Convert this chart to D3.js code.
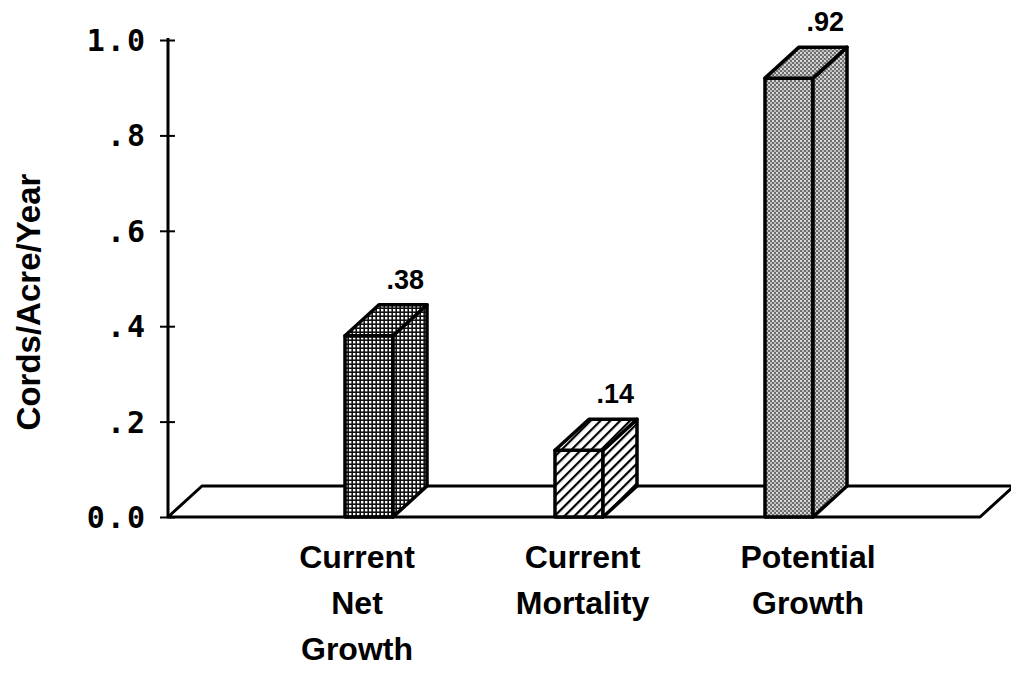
<!DOCTYPE html>
<html>
<head>
<meta charset="utf-8">
<script src="https://cdn.jsdelivr.net/npm/d3@7"></script>
<style>
  body { margin: 0; background: #fff; }
  svg { display: block; }
  .lbl { font-family: "Liberation Sans", Arial, sans-serif; font-weight: bold; fill: #000; }
  .ytk { font-family: "DejaVu Sans Mono", monospace; font-weight: bold; fill: #000; }
</style>
</head>
<body>
<div id="chart"></div>
<script>
// values
var categories = ['Current Net Growth', 'Current Mortality', 'Potential Growth']
var values = [0.38, 0.14, 0.92]
var patterns = ['grid', 'hatch', 'stipple']
var yTicks = [0, 0.2, 0.4, 0.6, 0.8, 1.0]
var yTickLabels = ['0.0', '.2', '.4', '.6', '.8', '1.0']

var W = 1011, H = 673
var svg = d3.select('#chart').append('svg').attr('width', W).attr('height', H)

var y = d3.scaleLinear().domain([0, 1]).range([517, 40])
var x = d3.scaleBand().domain(categories).range([240, 918])
  .paddingInner(0.7714).paddingOuter(0.5)
// category names sit a bit off the bars in the original
var xl = d3.scalePoint().domain(categories).range([357, 808])

var axisX = 168
var dx = 34, dy = -31   // depth of the fake 3d

// fills
var defs = svg.append('defs')
var pg = defs.append('pattern').attr('id', 'grid')
  .attr('patternUnits', 'userSpaceOnUse').attr('width', 4).attr('height', 4)
pg.append('rect').attr('width', 4).attr('height', 4).attr('fill', '#111')
pg.append('rect').attr('x', 1).attr('y', 1).attr('width', 2.4).attr('height', 2.4).attr('fill', '#fff')

var ph = defs.append('pattern').attr('id', 'hatch')
  .attr('patternUnits', 'userSpaceOnUse').attr('width', 7).attr('height', 7)
  .attr('patternTransform', 'rotate(45)')
ph.append('rect').attr('width', 7).attr('height', 7).attr('fill', '#fff')
ph.append('rect').attr('x', 0).attr('width', 2.2).attr('height', 7).attr('fill', '#000')

var ps = defs.append('pattern').attr('id', 'stipple')
  .attr('patternUnits', 'userSpaceOnUse').attr('width', 4).attr('height', 4)
ps.append('rect').attr('width', 4).attr('height', 4).attr('fill', '#6e6e6e')
ps.append('rect').attr('x', 0).attr('y', 0).attr('width', 2).attr('height', 2).attr('fill', '#d8d8d8')
ps.append('rect').attr('x', 2).attr('y', 2).attr('width', 2).attr('height', 2).attr('fill', '#bdbdbd')

// floor
var fx0 = axisX, fx1 = 980, fy = y(0)
svg.append('path')
  .attr('d', 'M' + [fx0, fy] + 'L' + [fx0 + dx, fy + dy] + 'L' + [fx1 + dx, fy + dy] + 'L' + [fx1, fy] + 'Z')
  .attr('fill', '#fff').attr('stroke', '#000').attr('stroke-width', 3).attr('stroke-linejoin', 'round')

// y axis, labels drawn by hand so the mono font sticks
var yAxis = d3.axisLeft(y).tickValues(yTicks).tickSize(8).tickFormat('')
var ga = svg.append('g').attr('transform', 'translate(' + axisX + ',0)').call(yAxis)
ga.select('.domain').remove()
ga.selectAll('.tick text').remove()
ga.selectAll('.tick line').attr('x2', -8).attr('x1', 7).attr('stroke-width', 2)
ga.append('line').attr('x1', 0).attr('x2', 0).attr('y1', y(1) - 2).attr('y2', y(0))
  .attr('stroke', '#000').attr('stroke-width', 3)

ga.selectAll('text.ytk').data(yTicks).enter().append('text').attr('class', 'ytk')
  .attr('x', -21).attr('y', function(d){ return y(d) + 11 })
  .attr('text-anchor', 'end').attr('font-size', 30).attr('letter-spacing', 2)
  .text(function(d, i){ return yTickLabels[i] })

// bars
var bw = x.bandwidth()
var bars = svg.selectAll('g.bar').data(categories).enter().append('g').attr('class', 'bar')

bars.each(function(c, i){
  var g = d3.select(this)
  var x0 = x(c), x1 = x0 + bw, yt = y(values[i]), yb = y(0)
  var fill = 'url(#' + patterns[i] + ')'
  var faces = [
    [[x0, yb], [x0, yt], [x1, yt], [x1, yb]],
    [[x1, yb], [x1, yt], [x1 + dx, yt + dy], [x1 + dx, yb + dy]],
    [[x0, yt], [x0 + dx, yt + dy], [x1 + dx, yt + dy], [x1, yt]]
  ]
  g.selectAll('path').data(faces).enter().append('path')
    .attr('d', function(p){ return 'M' + p.join('L') + 'Z' })
    .attr('fill', fill).attr('stroke', '#000').attr('stroke-width', 3.5)
    .attr('stroke-linejoin', 'round')

  g.append('text').attr('class', 'lbl')
    .attr('x', x1 + dx - 3).attr('y', yt + dy - 16)
    .attr('text-anchor', 'end').attr('font-size', 27)
    .text(d3.format('.2f')(values[i]).replace(/^0/, ''))

  var t = g.append('text').attr('class', 'lbl').attr('text-anchor', 'middle').attr('font-size', 32)
  c.split(' ').forEach(function(w, k){
    t.append('tspan').attr('x', xl(c)).attr('y', 568 + k * 46).text(w)
  })
})

// y title
svg.append('text').attr('class', 'lbl')
  .attr('transform', 'translate(40,302) rotate(-90)')
  .attr('text-anchor', 'middle').attr('font-size', 33)
  .text('Cords/Acre/Year')
</script>
</body>
</html>
